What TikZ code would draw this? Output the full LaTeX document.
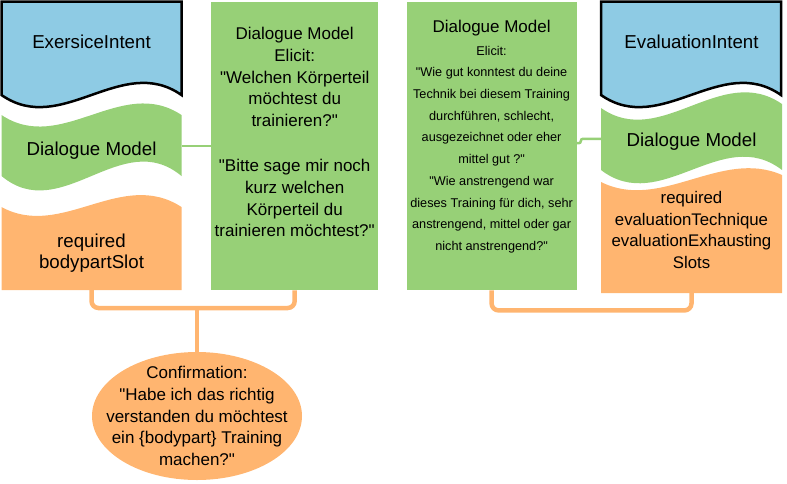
\documentclass[tikz,border=0pt]{standalone}
\usepackage{fontspec}
\setmainfont{Liberation Sans}[Ligatures=TeXOff]
\usepackage{tikz}
\usetikzlibrary{positioning, shapes.geometric, calc}

\definecolor{intentblue}{RGB}{142,203,228}
\definecolor{modelgreen}{RGB}{151,208,119}
\definecolor{slotorange}{RGB}{255,181,112}

\newcommand{\fntbig}{\fontsize{18.7pt}{21pt}\selectfont}
\newcommand{\fntmid}{\fontsize{17pt}{21.9pt}\selectfont}
\newcommand{\fntsmall}{\fontsize{12.7pt}{21.7pt}\selectfont}
\newcommand{\fntslot}{\fontsize{16.8pt}{21.7pt}\selectfont}

\begin{document}
\begin{tikzpicture}[
    x=1pt, y=-1pt,
    intent/.style={fill=intentblue, draw=black, line width=2.5pt},
    model/.style={fill=modelgreen},
    slot/.style={fill=slotorange},
    elicit/.style={rectangle, fill=modelgreen, minimum height=288pt, inner sep=0pt},
    title/.style={inner sep=0pt, minimum width=181pt, font=\fntbig},
    elicittext/.style={align=center, inner sep=0pt},
    link/.style={modelgreen, line width=2.5pt},
    bracket/.style={slotorange, line width=4.5pt, rounded corners=7pt},
    confirmbox/.style={ellipse, fill=slotorange, minimum width=210pt, minimum height=128pt, inner sep=0pt}
]
\useasboundingbox (0,0) rectangle (787,483);

% Exercise intent column
\path[intent] (1.5,1.5) -- (181.5,1.5) -- (181.5,95) .. controls (121.5,53) and (61.5,137) .. (1.5,95) -- cycle;
\path[model] (1.5,115) .. controls (61.5,155) and (121.5,75) .. (181.5,115) -- (181.5,176)
    .. controls (121.5,126) and (61.5,226) .. (1.5,176) -- cycle;
\path[slot] (1.5,207) .. controls (61.5,240) and (121.5,168) .. (181.5,207) -- (181.5,290) -- (1.5,290) -- cycle;
\node[title, anchor=base] (exintent) at (91.5,48) {ExersiceIntent};
\node[title, anchor=base] (exdialog) at (91.5,155) {Dialogue Model};
\node[title, align=center, inner ysep=17pt, anchor=south] (exslot) at (91.5,290) {required\\bodypartSlot};

% Elicit boxes
\node[elicit, minimum width=167pt, anchor=north west] (elicitA) at (211,2) {};
\node[elicit, minimum width=170pt, right=28pt of elicitA] (elicitB) {};
\node[elicittext, font=\fntmid, below=24.7pt of elicitA.north] (elicitAtext)
    {Dialogue Model\\Elicit:\\"Welchen Körperteil\\möchtest du\\trainieren?"\\[22.5pt]"Bitte sage mir noch\\kurz welchen\\Körperteil du\\trainieren möchtest?"};
\node[elicittext, font=\fntsmall, below=17.6pt of elicitB.north] (elicitBtext)
    {{\fntmid Dialogue Model}\\[1.3pt]Elicit:\\"Wie gut konntest du deine\\Technik bei diesem Training\\durchführen, schlecht,\\ausgezeichnet oder eher\\mittel gut ?"\\"Wie anstrengend war\\dieses Training für dich, sehr\\anstrengend, mittel oder gar\\nicht anstrengend?"};

% Evaluation intent column
\path[intent] (601,1.5) -- (781,1.5) -- (781,95) .. controls (721,53) and (661,137) .. (601,95) -- cycle;
\path[model] (601,108) .. controls (661,150) and (721,62) .. (782,104) -- (782,170)
    .. controls (722,124) and (661,216) .. (601,170) -- cycle;
\path[slot] (601,182) .. controls (661,212) and (721,148) .. (782,175) -- (782,293) -- (601,293) -- cycle;
\node[title, anchor=base] (evintent) at (691.5,48) {EvaluationIntent};
\node[title, anchor=base] (evdialog) at (691.5,146.7) {Dialogue Model};
\node[title, font=\fntslot, align=center, inner ysep=24pt, anchor=south] (evslot) at (691.5,293)
    {required\\evaluationTechnique\\evaluationExhausting\\Slots};

% Confirmation
\coordinate (exjoin) at (197,308);
\node[confirmbox] (confirm) at (197,416) {};
\node[elicittext, font=\fntmid] (confirmtext) at (confirm.center)
    {Confirmation:\\"Habe ich das richtig\\verstanden du möchtest\\ein \{bodypart\} Training\\machen?"};

% Connections
\draw[link] ([yshift=4pt]exdialog.east) -- ([yshift=4pt]exdialog.east -| elicitA.west);
\draw[link, rounded corners=2pt] ([yshift=3pt]elicitB.east) -- ++(4,0) |- ([yshift=3pt]evdialog.west);
\draw[bracket] (exslot.south) |- (exjoin) -| (elicitA.south);
\draw[bracket] (exjoin) -- (confirm.north);
\draw[bracket] (elicitB.south) -- ++(0,20) -| (evslot.south);

\end{tikzpicture}
\end{document}
